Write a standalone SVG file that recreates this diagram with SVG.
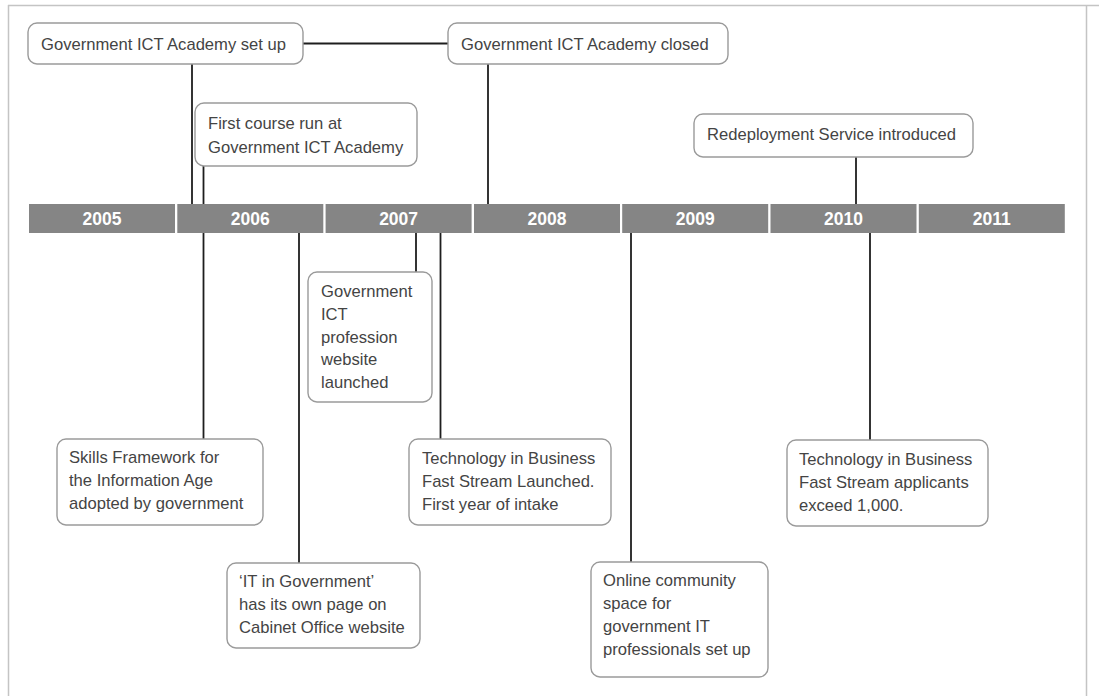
<svg xmlns="http://www.w3.org/2000/svg" width="1099" height="696" viewBox="0 0 1099 696">
  <style>
    .frame { stroke: #c4c4c4; stroke-width: 1.5; fill: none; }
    .box { fill: #ffffff; stroke: #9a9a9a; stroke-width: 1.4; }
    .lbl { font-family: "Liberation Sans", Arial, sans-serif; font-size: 16.6px; fill: #444444; }
    .year { fill: #858585; }
    .ytxt { font-family: "Liberation Sans", Arial, sans-serif; font-size: 17.5px; font-weight: bold; fill: #ffffff; text-anchor: middle; }
    .link { stroke: #1e1e1e; stroke-width: 1.8; fill: none; }
  </style>
  <rect width="1099" height="696" fill="#ffffff"/>

  <!-- page frame -->
  <g id="frame">
    <line class="frame" x1="8" y1="5.5" x2="1099" y2="5.5"/>
    <line class="frame" x1="8.5" y1="5" x2="8.5" y2="696"/>
    <line class="frame" x1="1086.5" y1="5" x2="1086.5" y2="696"/>
  </g>

  <!-- year bar -->
  <g id="timeline">
    <rect class="year" x="29" y="204" width="146" height="29"/>
    <rect class="year" x="177.3" y="204" width="146" height="29"/>
    <rect class="year" x="325.6" y="204" width="146" height="29"/>
    <rect class="year" x="474" y="204" width="146" height="29"/>
    <rect class="year" x="622.2" y="204" width="146" height="29"/>
    <rect class="year" x="770.5" y="204" width="146" height="29"/>
    <rect class="year" x="918.8" y="204" width="146" height="29"/>
    <text class="ytxt" x="102" y="224.5">2005</text>
    <text class="ytxt" x="250.3" y="224.5">2006</text>
    <text class="ytxt" x="398.6" y="224.5">2007</text>
    <text class="ytxt" x="547" y="224.5">2008</text>
    <text class="ytxt" x="695.2" y="224.5">2009</text>
    <text class="ytxt" x="843.5" y="224.5">2010</text>
    <text class="ytxt" x="991.8" y="224.5">2011</text>
  </g>

  <!-- connectors -->
  <g id="connectors">
    <line class="link" x1="303" y1="43.5" x2="448" y2="43.5"/>
    <line class="link" x1="192" y1="64" x2="192" y2="204"/>
    <line class="link" x1="203.5" y1="166" x2="203.5" y2="204"/>
    <line class="link" x1="488" y1="64" x2="488" y2="204"/>
    <line class="link" x1="856" y1="157" x2="856" y2="204"/>
    <line class="link" x1="203.5" y1="233" x2="203.5" y2="439"/>
    <line class="link" x1="299" y1="233" x2="299" y2="563"/>
    <line class="link" x1="416" y1="233" x2="416" y2="272"/>
    <line class="link" x1="440.5" y1="233" x2="440.5" y2="439"/>
    <line class="link" x1="631" y1="233" x2="631" y2="562"/>
    <line class="link" x1="870" y1="233" x2="870" y2="440"/>
  </g>

  <g id="academy-setup">
    <rect class="box" x="28" y="23" width="275" height="41" rx="9"/>
    <text class="lbl" x="41" y="50">Government ICT Academy set up</text>
  </g>

  <g id="academy-closed">
    <rect class="box" x="448" y="23" width="280" height="41" rx="9"/>
    <text class="lbl" x="461" y="50">Government ICT Academy closed</text>
  </g>

  <g id="first-course">
    <rect class="box" x="195" y="103" width="222" height="63" rx="9"/>
    <text class="lbl" x="208" y="129">First course run at</text>
    <text class="lbl" x="208" y="153">Government ICT Academy</text>
  </g>

  <g id="redeployment">
    <rect class="box" x="694" y="114" width="279" height="43" rx="9"/>
    <text class="lbl" x="707" y="140">Redeployment Service introduced</text>
  </g>

  <g id="profession-website">
    <rect class="box" x="308" y="272" width="124" height="130" rx="9"/>
    <text class="lbl" x="321" y="297">Government</text>
    <text class="lbl" x="321" y="319.8">ICT</text>
    <text class="lbl" x="321" y="342.5">profession</text>
    <text class="lbl" x="321" y="365.3">website</text>
    <text class="lbl" x="321" y="388">launched</text>
  </g>

  <g id="fast-stream-launch">
    <rect class="box" x="409" y="439" width="202" height="86" rx="9"/>
    <text class="lbl" x="422" y="464">Technology in Business</text>
    <text class="lbl" x="422" y="487">Fast Stream Launched.</text>
    <text class="lbl" x="422" y="510">First year of intake</text>
  </g>

  <g id="skills-framework">
    <rect class="box" x="57" y="439" width="206" height="86" rx="9"/>
    <text class="lbl" x="69" y="463">Skills Framework for</text>
    <text class="lbl" x="69" y="486">the Information Age</text>
    <text class="lbl" x="69" y="509">adopted by government</text>
  </g>

  <g id="it-in-government">
    <rect class="box" x="227" y="563" width="193" height="85" rx="9"/>
    <text class="lbl" x="239" y="587">‘IT in Government’</text>
    <text class="lbl" x="239" y="610">has its own page on</text>
    <text class="lbl" x="239" y="633">Cabinet Office website</text>
  </g>

  <g id="online-community">
    <rect class="box" x="591" y="562" width="177" height="115" rx="9"/>
    <text class="lbl" x="603" y="586">Online community</text>
    <text class="lbl" x="603" y="609">space for</text>
    <text class="lbl" x="603" y="632">government IT</text>
    <text class="lbl" x="603" y="655">professionals set up</text>
  </g>

  <g id="fast-stream-applicants">
    <rect class="box" x="787" y="440" width="201" height="86" rx="9"/>
    <text class="lbl" x="799" y="465">Technology in Business</text>
    <text class="lbl" x="799" y="488">Fast Stream applicants</text>
    <text class="lbl" x="799" y="511">exceed 1,000.</text>
  </g>
</svg>
